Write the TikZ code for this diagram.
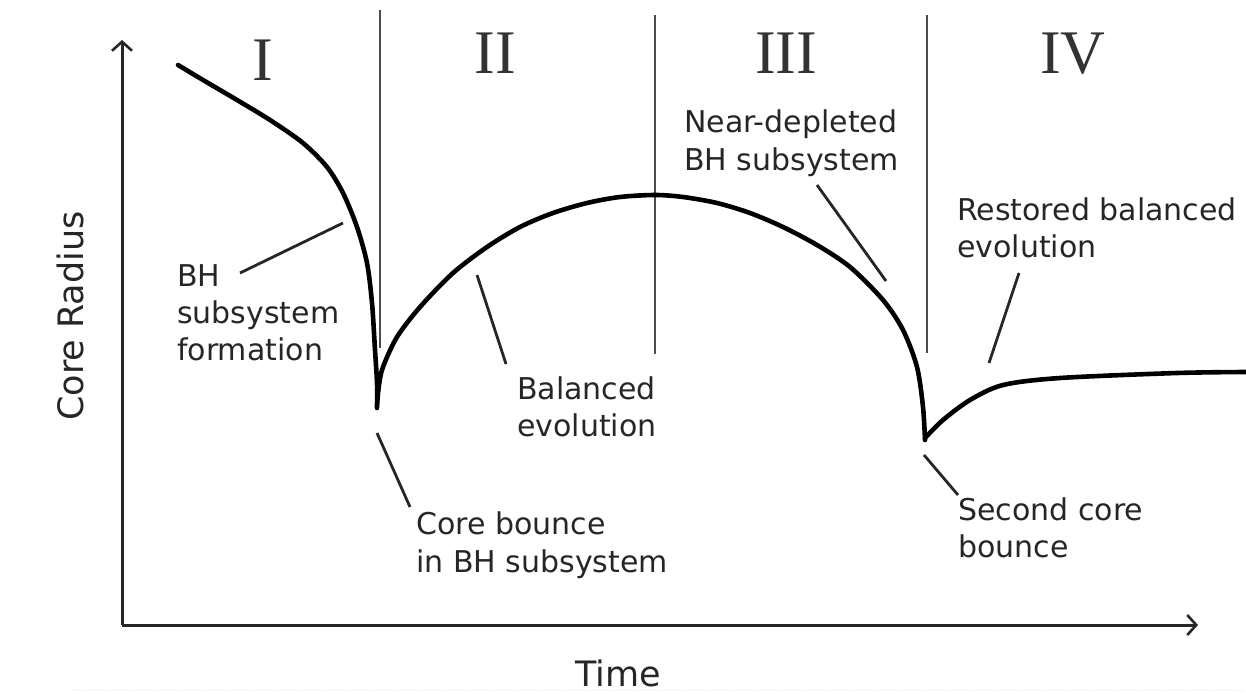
\documentclass[tikz,border=0pt]{standalone}
\usepackage{fontspec}
\setmainfont{DejaVu Sans}
\newfontfamily\romanfont{Liberation Serif}
\usetikzlibrary{arrows.meta}
\begin{document}
\begin{tikzpicture}[x=1pt,y=-1pt,
  lbl/.style={anchor=base west,inner sep=0pt,font=\fontsize{30}{37}\selectfont,text=black!85},
  axlbl/.style={anchor=base,inner sep=0pt,font=\fontsize{35}{42}\selectfont,text=black!85},
  numeral/.style={anchor=base,inner sep=0pt,font=\romanfont\fontsize{62}{70}\selectfont,text=black!80},
  leader/.style={line width=2.8pt,black!85},
  divider/.style={line width=1.8pt,black!70},
  curve/.style={line width=4.6pt,black,line join=round,line cap=round},
  axis/.style={line width=3pt,black!85,-{Straight Barb[length=9pt,width=20pt,line width=2.6pt]}}]
\useasboundingbox (0,0) rectangle (1246,693);
% faint bottom line
\draw[gray!20,line width=1pt,dotted] (70,690) -- (1246,690);
% axes
\coordinate (O) at (122,625);
\coordinate (ytip) at (122,40);
\coordinate (xtip) at (1198,625);
\draw[axis] (O) -- (ytip);
\draw[axis] (O) -- (xtip);
% dividers
\coordinate (d1t) at (380,10); \coordinate (d1b) at (380,348);
\coordinate (d2t) at (655,15); \coordinate (d2b) at (655,354);
\coordinate (d3t) at (927,15); \coordinate (d3b) at (927,353);
\draw[divider] (d1t) -- (d1b);
\draw[divider] (d2t) -- (d2b);
\draw[divider] (d3t) -- (d3b);
% numerals
\node[numeral] (nI) at (263,80) {I};
\node[numeral] (nII) at (495,74) {II};
\node[numeral] (nIII) at (786,73) {III};
\node[numeral] (nIV) at (1073,74) {IV};
% curve
\draw[curve] plot[smooth,tension=0.5] coordinates {(178,65) (203,80) (237,100) (270,120) (303,143) (327,167) (343,193) (357,227) (367,263) (372,303) (375,350) (377,383) (377,408)};
\draw[curve] plot[smooth,tension=0.5] coordinates {(377,405) (379,385) (383,367) (397,337) (420,307) (453,273) (487,247) (520,227) (553,213) (587,203) (620,197) (655,195) (683,197) (717,203) (750,213) (783,227) (817,245) (850,267) (883,300) (903,330) (917,367) (923,407) (925,440)};
\draw[curve] plot[smooth,tension=0.5] coordinates {(925,438) (943,420) (970,400) (1003,385) (1060,378) (1177,373) (1246,372)};
% labels
\node[lbl] (bh1) at (177,286) {BH};
\node[lbl] (bh2) at (177,323) {subsystem};
\node[lbl] (bh3) at (177,360) {formation};
\node[lbl] (cb1) at (416,534) {Core bounce};
\node[lbl] (cb2) at (416,572) {in BH subsystem};
\node[lbl] (be1) at (517,399) {Balanced};
\node[lbl] (be2) at (517,436) {evolution};
\node[lbl] (nd1) at (684,132) {Near-depleted};
\node[lbl] (nd2) at (684,170) {BH subsystem};
\node[lbl] (rb1) at (957,220) {Restored balanced};
\node[lbl] (rb2) at (957,257) {evolution};
\node[lbl] (sc1) at (958,520) {Second core};
\node[lbl] (sc2) at (958,557) {bounce};
\node[axlbl] (time) at (618,686) {Time};
\node[axlbl,rotate=90] (radius) at (83,316) {Core Radius};
% leaders
\coordinate (l1a) at (240,273); \coordinate (l1b) at (343,223);
\coordinate (l2a) at (477,275); \coordinate (l2b) at (506,364);
\coordinate (l3a) at (377,433); \coordinate (l3b) at (410,507);
\coordinate (l4a) at (817,185); \coordinate (l4b) at (886,281);
\coordinate (l5a) at (1019,273); \coordinate (l5b) at (989,363);
\coordinate (l6a) at (924,455); \coordinate (l6b) at (958,495);
\draw[leader] (l1a) -- (l1b);
\draw[leader] (l2a) -- (l2b);
\draw[leader] (l3a) -- (l3b);
\draw[leader] (l4a) -- (l4b);
\draw[leader] (l5a) -- (l5b);
\draw[leader] (l6a) -- (l6b);
\end{tikzpicture}
\end{document}
